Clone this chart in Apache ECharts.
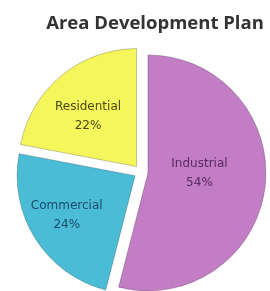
<!DOCTYPE html>
<html><head><meta charset="utf-8">
<script src="https://cdn.jsdelivr.net/npm/echarts@6/dist/echarts.min.js"></script>
<style>html,body{margin:0;padding:0;background:#fff}#c{width:270px;height:291px}</style>
</head><body><div id="c"></div>
<script>
const title = 'Area Development Plan';
const categories = ['Industrial', 'Commercial', 'Residential'];
const values = [54, 24, 22];
const colors = ['#C27DC5', '#4BBCD6', '#F5F55C'];
const labelColors = ['#5A2A60', '#1A4A6A', '#4A4A12'];
const labelShift = [[-10, -7], [-16, 6], [-9, -2]];

const chart = echarts.init(document.getElementById('c'), null, {renderer: 'canvas'});
chart.setOption({
  animation: false,
  title: {
    text: title, left: 150, top: 9, textAlign: 'center',
    textStyle: {fontFamily: 'Open Sans', fontWeight: 'bold', fontSize: 18.5, color: '#333'}
  },
  series: [{
    type: 'pie',
    center: [141, 172],
    radius: 118,
    startAngle: 90,
    clockwise: true,
    selectedMode: 'multiple',
    selectedOffset: 7,
    label: {position: 'inner', fontFamily: 'DejaVu Sans', fontSize: 12, lineHeight: 19,
      formatter: p => p.name + '\n' + p.value + '%'},
    labelLayout: p => ({dx: labelShift[p.dataIndex][0], dy: labelShift[p.dataIndex][1]}),
    itemStyle: {borderColor: 'rgba(0,0,0,0.22)', borderWidth: 1},
    data: categories.map((n, i) => ({
      name: n, value: values[i], selected: true,
      itemStyle: {color: colors[i]},
      label: {color: labelColors[i]}
    }))
  }]
});
</script></body></html>
